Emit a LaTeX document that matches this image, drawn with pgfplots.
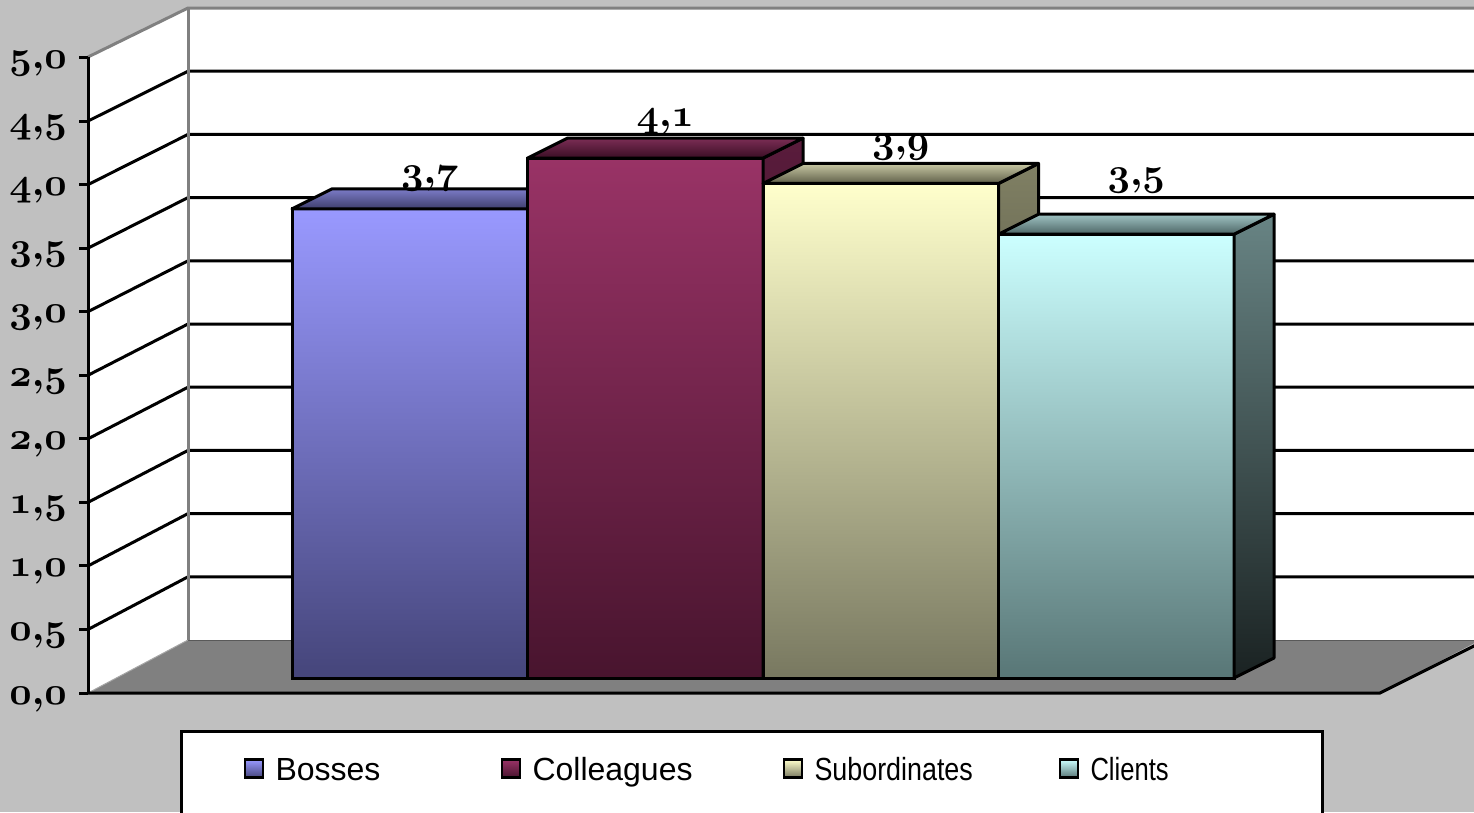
\documentclass[border=0pt]{standalone}
\usepackage{fix-cm}
\usepackage[no-math]{fontspec}
\usepackage{graphicx}
\usepackage{pgfplots}
\usepackage{pgfplotstable}
\pgfplotsset{compat=1.18}
\newfontfamily\legendfamily{Liberation Sans}

\definecolor{chartbg}{HTML}{C0C0C0}
\definecolor{walledge}{HTML}{808080}
\definecolor{floorgray}{HTML}{808080}
% front face (top/bottom), top face (back/front), side face (top/bottom)
\definecolor{bossTop}{HTML}{9999FF}\definecolor{bossBot}{HTML}{45457A}
\definecolor{bossLidB}{HTML}{7C7CC8}\definecolor{bossLidF}{HTML}{3E3E6C}
\definecolor{bossSideT}{HTML}{5C5CA0}\definecolor{bossSideB}{HTML}{202038}
\definecolor{collTop}{HTML}{993366}\definecolor{collBot}{HTML}{48142E}
\definecolor{collLidB}{HTML}{7B2D55}\definecolor{collLidF}{HTML}{3A0E24}
\definecolor{collSideT}{HTML}{5A1C3C}\definecolor{collSideB}{HTML}{1E0814}
\definecolor{subTop}{HTML}{FFFFCC}\definecolor{subBot}{HTML}{787860}
\definecolor{subLidB}{HTML}{C8C8A4}\definecolor{subLidF}{HTML}{5E5E48}
\definecolor{subSideT}{HTML}{808064}\definecolor{subSideB}{HTML}{2A2A20}
\definecolor{cliTop}{HTML}{CCFFFF}\definecolor{cliBot}{HTML}{587676}
\definecolor{cliLidB}{HTML}{A0C4C4}\definecolor{cliLidF}{HTML}{4C6464}
\definecolor{cliSideT}{HTML}{688484}\definecolor{cliSideB}{HTML}{1A2222}

% mean rating per group: x = bar centre, v = score
\pgfplotstableread{
x v
409.75 3.7
}\bosses
\pgfplotstableread{
x v
645.25 4.1
}\colleagues
\pgfplotstableread{
x v
880.75 3.9
}\subordinates
\pgfplotstableread{
x v
1116.25 3.5
}\clients

\pgfplotstablegetelem{0}{x}\of\bosses\let\xA\pgfplotsretval
\pgfplotstablegetelem{0}{v}\of\bosses\let\vA\pgfplotsretval
\pgfplotstablegetelem{0}{x}\of\colleagues\let\xB\pgfplotsretval
\pgfplotstablegetelem{0}{v}\of\colleagues\let\vB\pgfplotsretval
\pgfplotstablegetelem{0}{x}\of\subordinates\let\xC\pgfplotsretval
\pgfplotstablegetelem{0}{v}\of\subordinates\let\vC\pgfplotsretval
\pgfplotstablegetelem{0}{x}\of\clients\let\xD\pgfplotsretval
\pgfplotstablegetelem{0}{v}\of\clients\let\vD\pgfplotsretval

% bold old-style figures with a decimal comma
\newcommand{\valuefont}{\fontsize{39}{44}\selectfont\boldmath}
\newcommand{\oldnum}[1]{{\valuefont$\mathnormal{\pgfmathprintnumber[fixed,fixed zerofill,precision=1,use comma]{#1}}$}}

% depth of the boxes: 40 units to the right, 20px upwards
\newcommand{\dz}{0.157729}
% side and top faces of a box: #1 centre, #2 value, #3/#4 top face back/front, #5/#6 side top/bottom
\newcommand{\barfaces}[6]{%
  \draw[black, line width=3pt, line join=round, top color=#5, bottom color=#6]
    (axis cs:{#1+117.75},0) -- (axis cs:{#1+117.75},#2) -- (axis cs:{#1+157.75},{#2+\dz}) -- (axis cs:{#1+157.75},\dz) -- cycle;
  \draw[black, line width=3pt, line join=round, top color=#3, bottom color=#4]
    (axis cs:{#1-117.75},#2) -- (axis cs:{#1+117.75},#2) -- (axis cs:{#1+157.75},{#2+\dz}) -- (axis cs:{#1-77.75},{#2+\dz}) -- cycle;
}
\newcommand{\legtext}[2]{\makebox[#1][l]{#2}}

\pgfplotsset{
  mybar/.style={ybar, bar width=235.5, bar shift=0pt, draw=black, line width=3pt,
    legend image code/.code={\draw[##1, line width=2.8pt] (0pt,2.5pt) rectangle (18pt,20.5pt); \path (0pt,-50pt) (29pt,0pt);}},
}

\begin{document}
\begin{tikzpicture}
\begin{scope}[x=1pt,y=-1pt]
  \fill[chartbg] (0,0) rectangle (1474,812);
  % back wall and side wall
  \fill[white] (188,8) rectangle (1480,640);
  \fill[white] (88,57) -- (188,8) -- (188,640) -- (88,693) -- cycle;
  % floor
  \fill[floorgray] (88,693) -- (188,640) -- (1480,640) -- (1380,693) -- cycle;
  \draw[black!65, line width=1pt] (188,640) -- (1480,640);
  \draw[black!35, line width=1pt] (88,693) -- (188,640);
  % grid lines on side and back walls
  \foreach \k in {0.5,1,...,4.5}
    \draw[black, line width=3pt] (88,{693-127.1*\k}) -- (188,{640-126.4*\k}) -- (1480,{640-126.4*\k});
  % wall edges
  \draw[walledge, line width=3pt] (88,57) -- (188,8) -- (1480,8);
  \draw[walledge, line width=3pt] (188,8) -- (188,640);
  % floor front edge
  \draw[black, line width=3pt] (88,693) -- (1380,693) -- (1480,643);
  % value axis
  \draw[black, line width=3pt] (88,57) -- (88,693);
  \foreach \k in {0,0.5,...,5} {
    \draw[black, line width=3pt] (79,{693-127.1*\k}) -- (88,{693-127.1*\k});
    \node[anchor=base east, inner sep=0pt] at (67,{704-127.1*\k}) {\oldnum{\k}};
  }
\end{scope}

\begin{axis}[
  at={(0pt,-812pt)}, anchor=south west,
  scale only axis, width=1474pt, height=812pt,
  xmin=0, xmax=1474, ymin=-1.056782, ymax=5.347003,
  hide axis, clip=false,
  legend columns=4, legend cell align=left,
  legend style={at={(axis description cs:0.122117,0.100985)}, anchor=north west,
    draw=black, line width=3pt, fill=white,
    inner xsep=62pt, inner ysep=25.5pt,
    font=\legendfamily\fontsize{32}{38}\selectfont,
    column sep=0pt,
    /tikz/every even column/.style={column sep=0pt},
    /tikz/every odd column/.style={column sep=0pt},
    nodes={inner sep=0pt}, cells={anchor=base west}},
]
\addplot[mybar, top color=bossTop, bottom color=bossBot] table[x=x,y=v]{\bosses};
\addlegendentry{\legtext{225pt}{Bosses}}
\barfaces{\xA}{\vA}{bossLidB}{bossLidF}{bossSideT}{bossSideB}

\addplot[mybar, top color=collTop, bottom color=collBot] table[x=x,y=v]{\colleagues};
\addlegendentry{\legtext{250pt}{Colleagues}}
\barfaces{\xB}{\vB}{collLidB}{collLidF}{collSideT}{collSideB}

\addplot[mybar, top color=subTop, bottom color=subBot] table[x=x,y=v]{\subordinates};
\addlegendentry{\legtext{244pt}{\scalebox{0.84}[1]{Subordinates}}}
\barfaces{\xC}{\vC}{subLidB}{subLidF}{subSideT}{subSideB}

\addplot[mybar, top color=cliTop, bottom color=cliBot] table[x=x,y=v]{\clients};
\addlegendentry{\legtext{170pt}{\scalebox{0.8}[1]{Clients}}}
\barfaces{\xD}{\vD}{cliLidB}{cliLidF}{cliSideT}{cliSideB}

% value labels above the boxes
\node[anchor=base, inner sep=0pt, yshift=5pt] at (axis cs:{\xA+20},{\vA+\dz}) {\oldnum{\vA}};
\node[anchor=base, inner sep=0pt, yshift=12pt] at (axis cs:{\xB+20},{\vB+\dz}) {\oldnum{\vB}};
\node[anchor=base, inner sep=0pt, yshift=11pt] at (axis cs:{\xC+20},{\vC+\dz}) {\oldnum{\vC}};
\node[anchor=base, inner sep=0pt, yshift=29pt] at (axis cs:{\xD+20},{\vD+\dz}) {\oldnum{\vD}};
\end{axis}
\pgfresetboundingbox
\useasboundingbox (0pt,0pt) rectangle (1474pt,-812pt);
\end{tikzpicture}
\end{document}
